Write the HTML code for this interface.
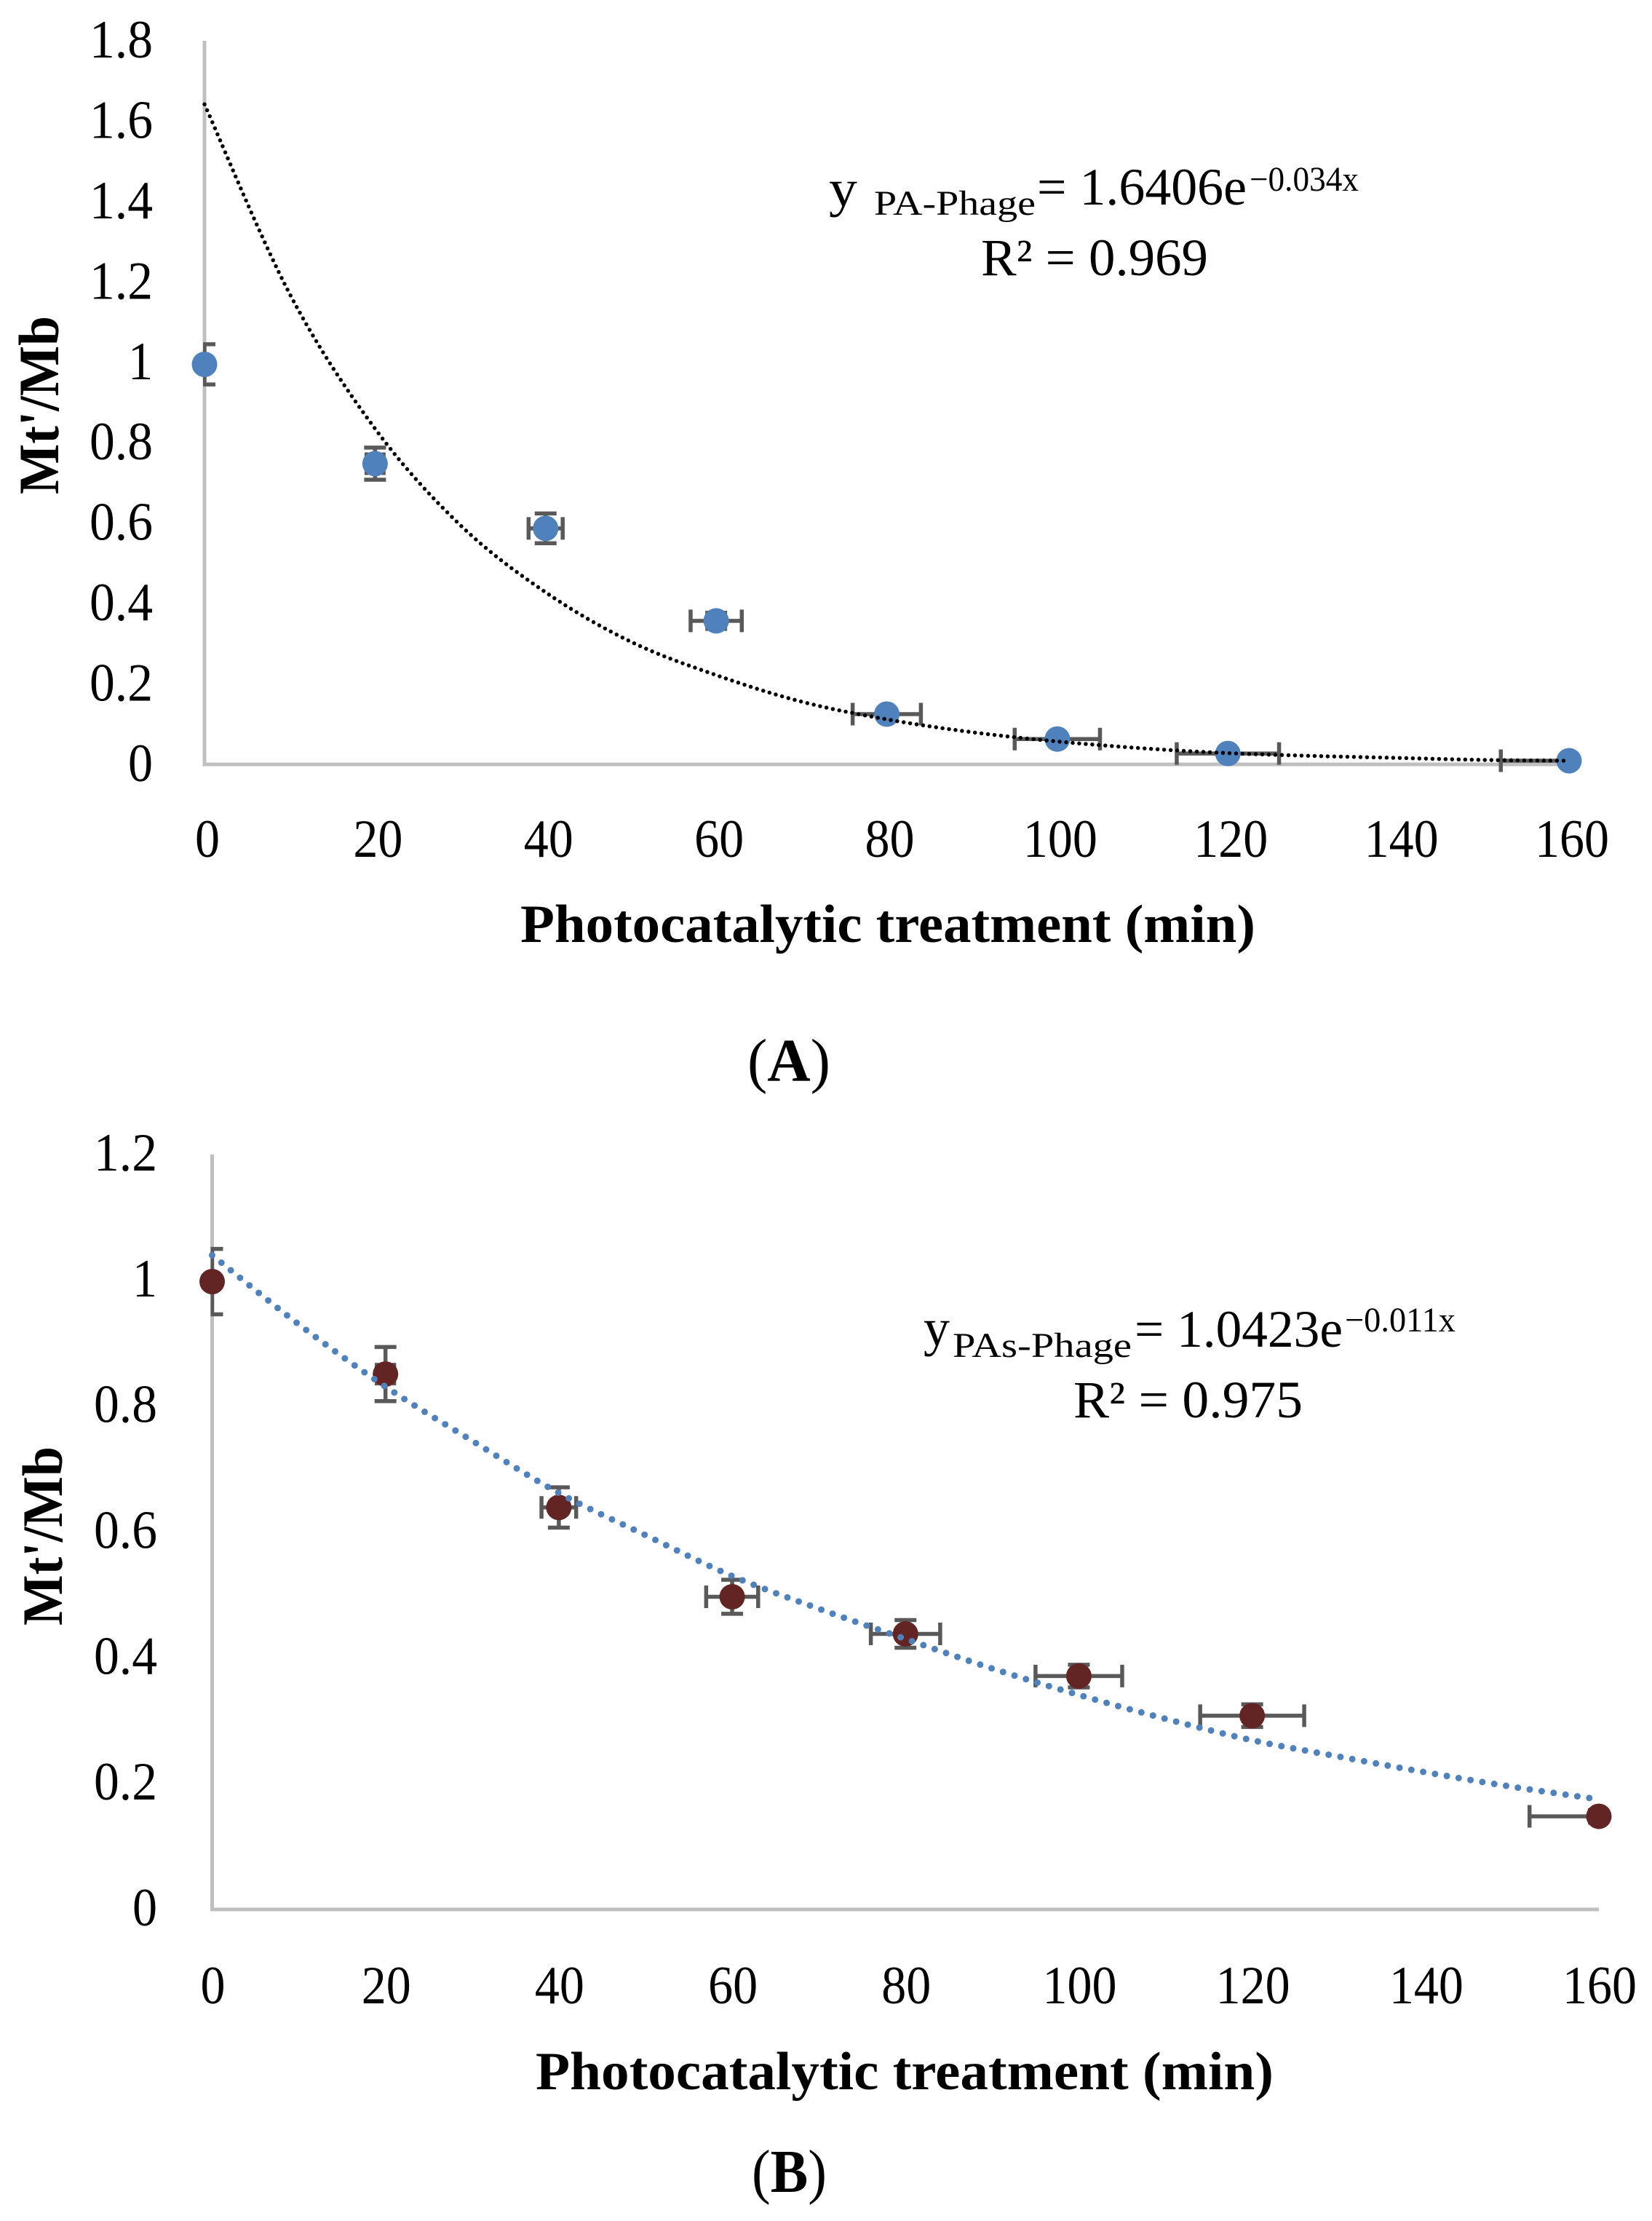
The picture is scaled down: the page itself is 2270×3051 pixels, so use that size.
<!DOCTYPE html>
<html lang="en">
<head>
<meta charset="utf-8">
<title>Photocatalytic treatment decay charts</title>
<style>
html,body{margin:0;padding:0;background:#fff;}
svg{display:block;}
text{font-family:"Liberation Serif",serif;fill:#000;}
.b{font-weight:bold;}
</style>
</head>
<body>
<svg id="figure" xmlns="http://www.w3.org/2000/svg" width="2270" height="3051" viewBox="0 0 2270 3051">
  <rect width="2270" height="3051" fill="#fff"/>
  <g id="chartA"></g>
  <g id="chartB"></g>

  <text class="b" x="715" y="1294" font-size="74" textLength="1010" lengthAdjust="spacingAndGlyphs">Photocatalytic treatment (min)</text>
  <text class="b" transform="translate(80,679) rotate(-90)" font-size="78" textLength="245" lengthAdjust="spacingAndGlyphs">Mt'/Mb</text>
  <text x="1027" y="1485" font-size="84" textLength="114" lengthAdjust="spacingAndGlyphs">(<tspan class="b">A</tspan>)</text>

  <g>
    <text x="1139" y="283" font-size="72" textLength="39" lengthAdjust="spacingAndGlyphs">y</text>
    <text x="1201" y="295" font-size="48" textLength="222" lengthAdjust="spacingAndGlyphs">PA-Phage</text>
    <text x="1425" y="281" font-size="72" textLength="288" lengthAdjust="spacingAndGlyphs">= 1.6406e</text>
    <text x="1717" y="262" font-size="48" textLength="150" lengthAdjust="spacingAndGlyphs">−0.034x</text>
    <text x="1348" y="378" font-size="72" textLength="312" lengthAdjust="spacingAndGlyphs">R² = 0.969</text>
  </g>

  <text class="b" x="736" y="2870" font-size="74" textLength="1014" lengthAdjust="spacingAndGlyphs">Photocatalytic treatment (min)</text>
  <text class="b" transform="translate(85,2233) rotate(-90)" font-size="78" textLength="246" lengthAdjust="spacingAndGlyphs">Mt'/Mb</text>
  <text x="1033" y="3011" font-size="84" textLength="103" lengthAdjust="spacingAndGlyphs">(<tspan class="b">B</tspan>)</text>

  <g>
    <text x="1269" y="1848" font-size="72" textLength="36" lengthAdjust="spacingAndGlyphs">y</text>
    <text x="1309" y="1864" font-size="48" textLength="246" lengthAdjust="spacingAndGlyphs">PAs-Phage</text>
    <text x="1559" y="1850" font-size="72" textLength="286" lengthAdjust="spacingAndGlyphs">= 1.0423e</text>
    <text x="1848" y="1829" font-size="48" textLength="152" lengthAdjust="spacingAndGlyphs">−0.011x</text>
    <text x="1475" y="1947" font-size="72" textLength="315" lengthAdjust="spacingAndGlyphs">R² = 0.975</text>
  </g>
</svg>
<script>
// Shared axis labels
var xTickLabels = ['0','20','40','60','80','100','120','140','160'];
var xTickValues = [0,20,40,60,80,100,120,140,160];

// Chart A data
var yTickLabelsA = ['0','0.2','0.4','0.6','0.8','1','1.2','1.4','1.6','1.8'];
var yTickValuesA = [0,0.2,0.4,0.6,0.8,1,1.2,1.4,1.6,1.8];
var timesA = [0,20,40,60,80,100,120,160];
var valuesA = [0.995,0.748,0.587,0.357,0.125,0.063,0.027,0.009];
var yErrorsA = [0.05,0.04,0.037,0.02,0.01,0.005,0.003,0.001];
var xErrorsA = [0,1,2,3,4,5,6,8];
var trendTimesA = [0,10,20,30,40,50,60,70,80,90,100,110,120,130,140,150,160];
var trendValuesA = [1.642,1.17,0.835,0.595,0.428,0.305,0.222,0.156,0.112,0.08,0.057,0.04,0.028,0.021,0.016,0.011,0.009];

// Chart B data
var yTickLabelsB = ['0','0.2','0.4','0.6','0.8','1','1.2'];
var yTickValuesB = [0,0.2,0.4,0.6,0.8,1,1.2];
var timesB = [0,20,40,60,80,100,120,160];
var valuesB = [0.998,0.851,0.639,0.497,0.438,0.371,0.308,0.148];
var yErrorsB = [0.052,0.043,0.032,0.027,0.022,0.018,0.018,0.01];
var xErrorsB = [0,1,2,3,4,5,6,8];
var trendTimesB = [0,10,20,30,40,50,60,70,80,90,100,110,120,130,140,150,160];
var trendValuesB = [1.04,0.93,0.831,0.745,0.662,0.595,0.53,0.478,0.43,0.383,0.341,0.303,0.269,0.243,0.218,0.195,0.175];

var SVGNS = 'http://www.w3.org/2000/svg';

function make(parent, tag, attrs) {
  var el = document.createElementNS(SVGNS, tag);
  for (var k in attrs) { el.setAttribute(k, attrs[k]); }
  parent.appendChild(el);
  return el;
}

function labelWidth(label) {
  var w = 0;
  for (var i = 0; i < label.length; i++) { w += label[i] === '.' ? 19 : 34; }
  return w;
}

function smoothPath(pts) {
  var d = 'M' + pts[0][0] + ' ' + pts[0][1];
  for (var i = 0; i < pts.length - 1; i++) {
    var p0 = pts[Math.max(i - 1, 0)];
    var p1 = pts[i];
    var p2 = pts[i + 1];
    var p3 = pts[Math.min(i + 2, pts.length - 1)];
    d += 'C' + (p1[0] + (p2[0] - p0[0]) / 6) + ' ' + (p1[1] + (p2[1] - p0[1]) / 6) + ' ' +
         (p2[0] - (p3[0] - p1[0]) / 6) + ' ' + (p2[1] - (p3[1] - p1[1]) / 6) + ' ' +
         p2[0] + ' ' + p2[1];
  }
  return d;
}

function drawChart(root, cfg) {
  var xScale = function (v) { return cfg.left + (cfg.right - cfg.left) * v / cfg.xMax; };
  var yScale = function (v) { return cfg.bottom - (cfg.bottom - cfg.top) * v / cfg.yMax; };

  var yAxis = make(root, 'line', {x1: xScale(0), x2: xScale(0), y1: yScale(cfg.yMax), y2: yScale(0) + 2.5, stroke: '#bfbfbf', 'stroke-width': 5});
  
  
  var xAxis = make(root, 'line', {x1: xScale(0) - 2.5, x2: xScale(cfg.xMax), y1: yScale(0), y2: yScale(0), stroke: '#bfbfbf', 'stroke-width': 5});
  
  

  cfg.yTickValues.forEach(function (v, i) {
    var t = make(root, 'text', {x: cfg.yLabelRight, y: yScale(v) + cfg.yLabelDy, 'font-size': 74, 'text-anchor': 'end', textLength: labelWidth(cfg.yTickLabels[i]), lengthAdjust: 'spacingAndGlyphs'});
    t.textContent = cfg.yTickLabels[i];
    
    
  });

  xTickValues.forEach(function (v, i) {
    var t = make(root, 'text', {x: xScale(v) + cfg.xLabelDx, y: cfg.xLabelY, 'font-size': 74, 'text-anchor': 'middle', textLength: labelWidth(xTickLabels[i]), lengthAdjust: 'spacingAndGlyphs'});
    t.textContent = xTickLabels[i];
    
    
  });

  var clip = make(root, 'clipPath', {id: cfg.id + '-clip'});
  make(clip, 'rect', {x: xScale(0) - 2, y: 0, width: xScale(cfg.xMax) - xScale(0) + 2, height: 3051});

  var errGroup = make(root, 'g', {'clip-path': 'url(#' + cfg.id + '-clip)', stroke: '#595959', 'stroke-width': 5.5, fill: 'none'});
  
  

  cfg.times.forEach(function (tv, i) {
    var cx = xScale(tv);
    var cy = yScale(cfg.values[i]);
    var yTop = yScale(cfg.values[i] + cfg.yErrors[i]);
    var yBot = yScale(cfg.values[i] - cfg.yErrors[i]);
    var d = 'M' + cx + ' ' + yTop + 'V' + yBot +
            'M' + (cx - 15) + ' ' + yTop + 'H' + (cx + 15) +
            'M' + (cx - 15) + ' ' + yBot + 'H' + (cx + 15);
    var yBar = make(errGroup, 'path', {d: d});
    
    
    if (cfg.xErrors[i] > 0) {
      var xL = xScale(tv - cfg.xErrors[i]);
      var xR = xScale(tv + cfg.xErrors[i]);
      var dx = 'M' + xL + ' ' + cy + 'H' + xR +
               'M' + xL + ' ' + (cy - 15.5) + 'V' + (cy + 15.5) +
               'M' + xR + ' ' + (cy - 15.5) + 'V' + (cy + 15.5);
      var xBar = make(errGroup, 'path', {d: dx});
      
      
    }
  });

  cfg.times.forEach(function (tv, i) {
    var m = make(root, 'circle', {cx: xScale(tv), cy: yScale(cfg.values[i]), r: 17.5, fill: cfg.markerColor});
    
    
  });

  var pts = cfg.trendTimes.map(function (tv, i) { return [xScale(tv), yScale(cfg.trendValues[i])]; });
  var trend = make(root, 'path', {d: smoothPath(pts), fill: 'none', stroke: cfg.trendColor, 'stroke-width': cfg.trendWidth, 'stroke-linecap': 'round', 'stroke-dasharray': '0 ' + cfg.trendGap});
  
  
}

drawChart(document.getElementById('chartA'), {
  id: 'chart-a', left: 281, right: 2156, top: 56, bottom: 1050, xMax: 160, yMax: 1.8,
  yTickValues: yTickValuesA, yTickLabels: yTickLabelsA,
  yLabelRight: 210, yLabelDy: 23, xLabelDx: 4, xLabelY: 1177,
  times: timesA, values: valuesA, yErrors: yErrorsA, xErrors: xErrorsA,
  trendTimes: trendTimesA, trendValues: trendValuesA,
  markerColor: '#4f81bd', trendColor: '#000', trendWidth: 5.5, trendGap: 9
});

drawChart(document.getElementById('chartB'), {
  id: 'chart-b', left: 291.5, right: 2197, top: 1586, bottom: 2623, xMax: 160, yMax: 1.2,
  yTickValues: yTickValuesB, yTickLabels: yTickLabelsB,
  yLabelRight: 216, yLabelDy: 22, xLabelDx: 1, xLabelY: 2752,
  times: timesB, values: valuesB, yErrors: yErrorsB, xErrors: xErrorsB,
  trendTimes: trendTimesB, trendValues: trendValuesB,
  markerColor: '#632523', trendColor: '#4f81bd', trendWidth: 9, trendGap: 16.5
});
</script>
</body>
</html>
